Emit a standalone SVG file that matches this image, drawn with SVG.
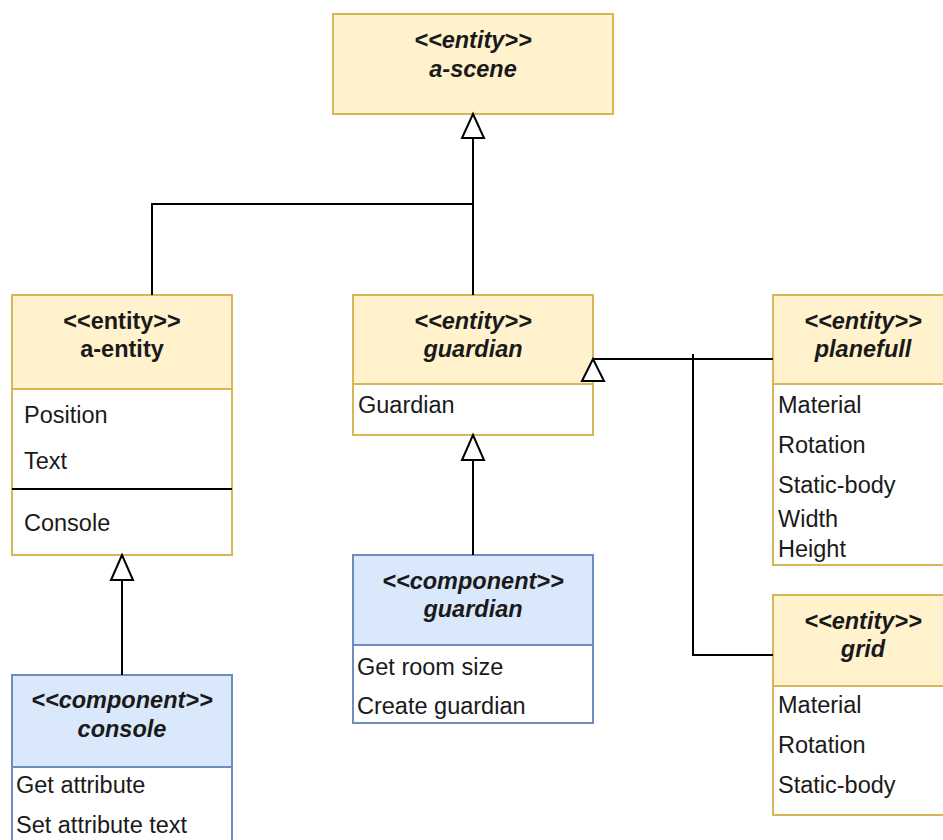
<svg xmlns="http://www.w3.org/2000/svg" width="943" height="840" viewBox="0 0 943 840">
  <defs>
    <style>
      .ent { fill: #fff2cc; stroke: #d6b656; stroke-width: 2; }
      .cmp { fill: #dae8fc; stroke: #6c8ebf; stroke-width: 2; }
      .body-e { fill: #ffffff; stroke: #d6b656; stroke-width: 2; }
      .body-c { fill: #ffffff; stroke: #6c8ebf; stroke-width: 2; }
      .hd { font-family: "Liberation Sans", Arial, sans-serif; font-size: 23.5px; font-weight: bold; font-style: italic; fill: #1a1a1a; text-anchor: middle; }
      .hd.up { font-style: normal; }
      .it { font-family: "Liberation Sans", Arial, sans-serif; font-size: 23.5px; fill: #1a1a1a; }
      .wire { fill: none; stroke: #000000; stroke-width: 2; }
      .tri { fill: #ffffff; stroke: #000000; stroke-width: 2; }
    </style>
  </defs>

  <rect width="943" height="840" fill="#ffffff"/>

  <g id="a-scene">
    <rect class="ent" x="333" y="14" width="280" height="100"/>
    <text class="hd" x="473" y="48">&lt;&lt;entity&gt;&gt;</text>
    <text class="hd" x="473" y="77">a-scene</text>
  </g>

  <g id="a-entity">
    <rect class="body-e" x="12" y="295" width="220" height="260"/>
    <rect class="ent" x="12" y="295" width="220" height="94"/>
    <text class="hd up" x="122" y="329">&lt;&lt;entity&gt;&gt;</text>
    <text class="hd up" x="122" y="357">a-entity</text>
    <text class="it" x="24" y="423">Position</text>
    <text class="it" x="24" y="469">Text</text>
    <line x1="12" y1="489" x2="232" y2="489" stroke="#000000" stroke-width="2"/>
    <text class="it" x="24" y="531">Console</text>
  </g>

  <g id="guardian-entity">
    <rect class="body-e" x="353" y="295" width="240" height="140"/>
    <rect class="ent" x="353" y="295" width="240" height="89"/>
    <text class="hd" x="473" y="329">&lt;&lt;entity&gt;&gt;</text>
    <text class="hd" x="473" y="357">guardian</text>
    <text class="it" x="358" y="413">Guardian</text>
  </g>

  <g id="planefull">
    <rect class="body-e" x="773" y="295" width="180" height="270"/>
    <rect class="ent" x="773" y="295" width="180" height="89"/>
    <text class="hd" x="863" y="329">&lt;&lt;entity&gt;&gt;</text>
    <text class="hd" x="863" y="357">planefull</text>
    <text class="it" x="778" y="413">Material</text>
    <text class="it" x="778" y="453">Rotation</text>
    <text class="it" x="778" y="493">Static-body</text>
    <text class="it" x="778" y="527">Width</text>
    <text class="it" x="778" y="557">Height</text>
  </g>

  <g id="grid">
    <rect class="body-e" x="773" y="595" width="180" height="220"/>
    <rect class="ent" x="773" y="595" width="180" height="91"/>
    <text class="hd" x="863" y="629">&lt;&lt;entity&gt;&gt;</text>
    <text class="hd" x="863" y="657">grid</text>
    <text class="it" x="778" y="713">Material</text>
    <text class="it" x="778" y="753">Rotation</text>
    <text class="it" x="778" y="793">Static-body</text>
  </g>

  <g id="console-component">
    <rect class="body-c" x="12" y="675" width="220" height="180"/>
    <rect class="cmp" x="12" y="675" width="220" height="92"/>
    <text class="hd" x="122" y="708">&lt;&lt;component&gt;&gt;</text>
    <text class="hd" x="122" y="737">console</text>
    <text class="it" x="16" y="793">Get attribute</text>
    <text class="it" x="16" y="833">Set attribute text</text>
  </g>

  <g id="guardian-component">
    <rect class="body-c" x="353" y="555" width="240" height="168"/>
    <rect class="cmp" x="353" y="555" width="240" height="90"/>
    <text class="hd" x="473" y="589">&lt;&lt;component&gt;&gt;</text>
    <text class="hd" x="473" y="617">guardian</text>
    <text class="it" x="357" y="675">Get room size</text>
    <text class="it" x="357" y="714">Create guardian</text>
  </g>

  <!-- generalization connectors, drawn over the class boxes -->
  <g id="connectors">
    <path class="wire" d="M152 295 V204 H473"/>
    <path class="wire" d="M473 295 V138"/>
    <polygon class="tri" points="473,114 462,138 484,138"/>
    <path class="wire" d="M122 675 V580"/>
    <polygon class="tri" points="122,555 111,580 133,580"/>
    <path class="wire" d="M473 555 V460"/>
    <polygon class="tri" points="473,435 462,460 484,460"/>
    <path class="wire" d="M773 359 H593"/>
    <path class="wire" d="M773 655 H693 V354"/>
    <polygon class="tri" points="593,359 582,381 604,381"/>
  </g>
</svg>
